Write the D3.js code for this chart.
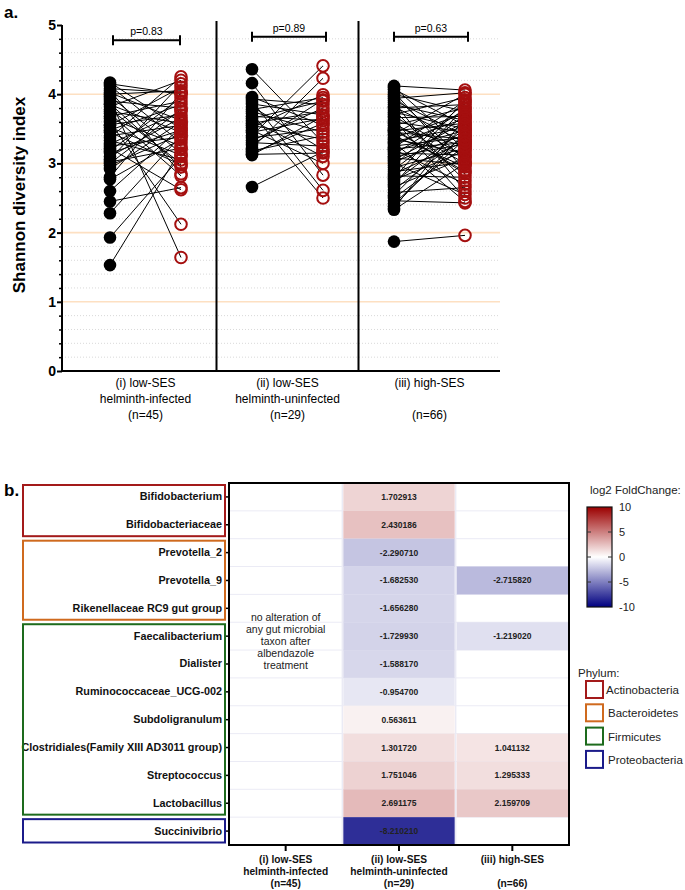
<!DOCTYPE html>
<html><head><meta charset="utf-8">
<script src="https://cdn.jsdelivr.net/npm/d3@7"></script>
<style>
html,body{margin:0;padding:0;background:#fff;}
svg{display:block;font-family:"Liberation Sans",Arial,sans-serif;}
</style></head>
<body>
<svg id="c" width="685" height="890"></svg>
<script>
// ---------- Panel a data ----------
const groups = ["i","ii","iii"];
const groupLabels = [["(i) low-SES","helminth-infected","(n=45)"],["(ii) low-SES","helminth-uninfected","(n=29)"],["(iii) high-SES","","(n=66)"]];
const pValues = ["p=0.83","p=0.89","p=0.63"];
const bracketY = [4.78,4.83,4.83];
const yTicks = [0,1,2,3,4,5];

const groupI_before = [4.17,4.15,4.12,4.08,4.05,4.02,4.00,3.97,3.93,3.90,3.86,3.85,3.82,3.78,3.75,3.72,3.68,3.65,3.60,3.56,3.55,3.52,3.48,3.45,3.40,3.37,3.33,3.28,3.25,3.22,3.18,3.15,3.10,3.06,3.02,3.00,2.97,2.92,2.80,2.77,2.60,2.45,2.28,1.93,1.53];
const groupI_after  = [3.50,4.00,3.30,4.02,2.85,3.62,4.05,3.15,1.64,3.80,2.95,3.45,4.20,3.00,3.58,2.82,3.90,3.25,2.12,3.70,4.10,3.12,3.85,2.98,3.55,4.25,3.05,3.75,3.38,2.62,3.95,3.48,3.66,4.15,3.22,3.78,3.42,3.60,4.02,3.35,3.52,2.65,3.40,3.10,3.20];

const groupII_before = [4.36,4.16,3.96,3.93,3.90,3.86,3.82,3.78,3.75,3.72,3.68,3.65,3.62,3.58,3.55,3.52,3.48,3.45,3.40,3.37,3.33,3.30,3.27,3.22,3.18,3.15,3.13,3.12,2.66];
const groupII_after  = [3.30,2.83,3.55,3.85,2.61,3.70,3.20,3.95,3.45,2.50,3.62,3.90,3.10,3.75,3.35,3.99,3.00,3.65,4.41,3.50,3.80,3.25,3.92,4.23,3.40,3.58,3.15,3.68,3.17];

const groupIII_before = [4.12,4.10,4.07,4.03,4.00,3.97,3.94,3.91,3.88,3.85,
  3.82,3.80,3.77,3.74,3.71,3.68,3.66,3.63,3.60,3.58,
  3.55,3.52,3.50,3.47,3.45,3.42,3.40,3.37,3.35,3.32,
  3.30,3.28,3.25,3.23,3.20,3.18,3.15,3.13,3.10,3.08,
  3.05,3.02,3.00,2.97,2.94,2.91,2.88,2.85,2.82,2.79,
  2.76,2.73,2.70,2.66,2.62,2.58,2.54,2.50,2.46,2.42,
  2.38,2.35,2.33,3.48,3.21,1.87];
const groupIII_after = [4.06,3.20,3.55,2.90,3.75,3.05,4.02,3.40,2.60,3.62,
  3.30,3.85,2.75,3.50,3.95,3.10,3.68,2.50,3.45,3.00,
  3.80,3.25,2.85,3.58,3.35,4.00,2.95,3.72,3.15,3.52,
  2.45,3.65,3.38,3.90,2.70,3.48,3.12,3.78,3.28,2.98,
  3.60,3.42,2.55,3.88,3.22,3.70,3.02,3.32,2.80,3.92,
  3.18,3.50,3.82,3.08,3.40,2.65,3.56,3.25,2.43,3.35,
  3.45,3.66,3.00,2.88,3.30,1.96];

// ---------- Panel b data ----------
const taxa = ["Bifidobacterium","Bifidobacteriaceae","Prevotella_2","Prevotella_9","Rikenellaceae RC9 gut group","Faecalibacterium","Dialister","Ruminococcaceae_UCG-002","Subdoligranulum","Clostridiales(Family XIII AD3011 group)","Streptococcus","Lactobacillus","Succinivibrio"];
const heatCols = ["i","ii","iii"];
const heatColLabels = [["(i) low-SES","helminth-infected","(n=45)"],["(ii) low-SES","helminth-uninfected","(n=29)"],["(iii) high-SES","","(n=66)"]];
const fcInfected   = [null,null,null,null,null,null,null,null,null,null,null,null,null];
const fcUninfected = [1.702913,2.430186,-2.290710,-1.682530,-1.656280,-1.729930,-1.588170,-0.954700,0.563611,1.301720,1.751046,2.691175,-8.210210];
const fcHighSES    = [null,null,null,-2.715820,null,-1.219020,null,null,null,1.041132,1.295333,2.159709,null];
const phyla = ["Actinobacteria","Bacteroidetes","Firmicutes","Proteobacteria"];
const phylumColors = ["#a31a1a","#cf6a1e","#1d6b1d","#1b1b8a"];
const phylumStart = [0,2,5,12];
const phylumEnd = [1,4,11,12];
const legendTicks = [10,5,0,-5,-10];
const noteLines = ["no alteration of","any gut microbial","taxon after","albendazole","treatment"];

const svg = d3.select("#c");

// ================= Panel a =================
const y = d3.scaleLinear().domain([0,5]).range([371,25]);
const xg = d3.scaleBand().domain(groups).range([74.5,500.5]);
const xp = d3.scalePoint().domain(["before","after"]).range([0,xg.bandwidth()]).padding(0.5);
const axisLeftX = 62, plotRight = 500;

svg.append("text").attr("x",4).attr("y",18).attr("font-size",17).attr("font-weight","bold").text("a.");

const minor = d3.range(0.2,5.0001,0.2).filter(v=>Math.abs(v-Math.round(v))>1e-6);
svg.append("g").selectAll("line").data(minor).join("line")
  .attr("x1",axisLeftX).attr("x2",plotRight).attr("y1",d=>y(d)).attr("y2",d=>y(d))
  .attr("stroke","#d9d9d9").attr("stroke-width",1).attr("stroke-dasharray","1,2");
svg.append("g").selectAll("line").data([1,2,3,4]).join("line")
  .attr("x1",axisLeftX).attr("x2",plotRight).attr("y1",d=>y(d)).attr("y2",d=>y(d))
  .attr("stroke","#fde0c2").attr("stroke-width",1.6);

const yAxis = d3.axisLeft(y).tickValues(yTicks).tickSize(5).tickFormat(d3.format("d"));
const ga = svg.append("g").attr("transform",`translate(${axisLeftX},0)`).call(yAxis);
ga.select(".domain").attr("stroke","#000").attr("stroke-width",2).attr("d",`M0,${y(5)}V${y(0)}`);
ga.selectAll(".tick line").attr("stroke","#000").attr("stroke-width",2);
ga.selectAll(".tick text").attr("font-size",14).attr("font-weight","bold").attr("fill","#000")
  .attr("font-family","Liberation Sans, Arial, sans-serif").attr("x",-6);
const gm = svg.append("g").attr("transform",`translate(${axisLeftX},0)`)
  .call(d3.axisLeft(y).tickValues(minor).tickSize(3).tickFormat(""));
gm.select(".domain").remove();
gm.selectAll(".tick line").attr("stroke","#000").attr("stroke-width",1.5);

svg.append("line").attr("x1",axisLeftX-1).attr("x2",plotRight).attr("y1",y(0)).attr("y2",y(0))
  .attr("stroke","#000").attr("stroke-width",2);
svg.append("g").selectAll("line").data(groups.slice(1)).join("line")
  .attr("x1",d=>xg(d)).attr("x2",d=>xg(d)).attr("y1",21).attr("y2",y(0))
  .attr("stroke","#000").attr("stroke-width",2);

svg.append("text").attr("transform",`translate(25,${(y(0)+y(5))/2-3}) rotate(-90)`)
  .attr("text-anchor","middle").attr("font-size",17).attr("font-weight","bold").text("Shannon diversity index");

const groupData = [[groupI_before,groupI_after],[groupII_before,groupII_after],[groupIII_before,groupIII_after]];
const redCol = "#a50f0f";
groups.forEach((g,gi)=>{
  const bx = xg(g)+xp("before"), ax = xg(g)+xp("after");
  const [b,a] = groupData[gi];
  const pairs = b.map((v,i)=>[v,a[i]]);
  const G = svg.append("g");
  G.selectAll("line.pair").data(pairs).join("line")
    .attr("x1",bx).attr("x2",ax).attr("y1",d=>y(d[0])).attr("y2",d=>y(d[1]))
    .attr("stroke","#000").attr("stroke-width",1);
  G.selectAll("circle.b").data(b).join("circle")
    .attr("cx",bx).attr("cy",d=>y(d)).attr("r",6.3).attr("fill","#000");
  G.selectAll("circle.a").data(a).join("circle")
    .attr("cx",ax).attr("cy",d=>y(d)).attr("r",5.8).attr("fill","none").attr("stroke",redCol).attr("stroke-width",2);
  const by = y(bracketY[gi]);
  const bl = bx+ (gi===0?3:0), br = ax - (gi===0?1:-3);
  G.append("path").attr("d",`M${bl},${by-5}V${by+5}M${bl},${by}H${br}M${br},${by-5}V${by+5}`)
    .attr("stroke","#000").attr("stroke-width",2).attr("fill","none");
  G.append("text").attr("x",(bl+br)/2).attr("y",by-5).attr("text-anchor","middle")
    .attr("font-size",10.5).text(pValues[gi]);
  groupLabels[gi].forEach((t,li)=>{
    svg.append("text").attr("x",xg(g)+xg.bandwidth()/2).attr("y",387+li*16)
      .attr("text-anchor","middle").attr("font-size",12).text(t);
  });
});

// ================= Panel b =================
svg.append("text").attr("x",4).attr("y",496).attr("font-size",17).attr("font-weight","bold").text("b.");

const hx = d3.scaleBand().domain(heatCols).range([229,569]);
const hy = d3.scaleBand().domain(taxa).range([483,845]);
const color = d3.scaleLinear().domain([-10,0,10]).range(["#000080","#ffffff","#9b0000"]);
const colVals = [fcInfected,fcUninfected,fcHighSES];

const HG = svg.append("g");
HG.selectAll("line.h").data(taxa.slice(1)).join("line")
  .attr("x1",229).attr("x2",569).attr("y1",d=>hy(d)).attr("y2",d=>hy(d))
  .attr("stroke","#ebebf5").attr("stroke-width",1);
HG.selectAll("line.v").data(heatCols.slice(1)).join("line")
  .attr("x1",d=>hx(d)).attr("x2",d=>hx(d)).attr("y1",483).attr("y2",845)
  .attr("stroke","#ebebf5").attr("stroke-width",1.5);

const cells = [];
heatCols.forEach((c,ci)=>taxa.forEach((t,ti)=>{ if(colVals[ci][ti]!==null) cells.push({c,t,v:colVals[ci][ti]}); }));
HG.selectAll("rect.cell").data(cells).join("rect")
  .attr("x",d=>hx(d.c)+1).attr("y",d=>hy(d.t)).attr("width",hx.bandwidth()-2).attr("height",hy.bandwidth())
  .attr("fill",d=>color(d.v));
HG.selectAll("text.cell").data(cells).join("text")
  .attr("x",d=>hx(d.c)+hx.bandwidth()/2).attr("y",d=>hy(d.t)+hy.bandwidth()/2+3)
  .attr("text-anchor","middle").attr("font-size",8.5).attr("font-weight","bold").attr("fill","#222")
  .text(d=>d.v.toFixed(6));

noteLines.forEach((t,i)=>{
  svg.append("text").attr("x",hx("i")+hx.bandwidth()/2).attr("y",621+i*12)
    .attr("text-anchor","middle").attr("font-size",10.5).attr("fill","#222").text(t);
});

svg.append("rect").attr("x",229).attr("y",483).attr("width",340).attr("height",362)
  .attr("fill","none").attr("stroke","#000").attr("stroke-width",2);

const ra = svg.append("g").attr("transform","translate(228,0)").call(d3.axisLeft(hy).tickSize(4).tickPadding(2));
ra.select(".domain").remove();
ra.selectAll(".tick line").attr("stroke","#000").attr("stroke-width",1.5);
ra.selectAll(".tick text").attr("font-size",10.8).attr("font-weight","bold").attr("fill","#111")
  .attr("font-family","Liberation Sans, Arial, sans-serif");

const ca = svg.append("g").attr("transform","translate(0,846)").call(d3.axisBottom(hx).tickSize(5).tickFormat(""));
ca.select(".domain").remove();
ca.selectAll(".tick line").attr("stroke","#000").attr("stroke-width",2);
heatCols.forEach((c,ci)=>{
  heatColLabels[ci].forEach((t,li)=>{
    svg.append("text").attr("x",hx(c)+hx.bandwidth()/2).attr("y",863+li*12)
      .attr("text-anchor","middle").attr("font-size",10.2).attr("font-weight","bold").attr("fill","#111").text(t);
  });
});

phyla.forEach((p,i)=>{
  const top = hy(taxa[phylumStart[i]])+2, bot = hy(taxa[phylumEnd[i]])+hy.bandwidth()-2.5;
  svg.append("rect").attr("x",23).attr("y",top).attr("width",202).attr("height",bot-top)
    .attr("fill","none").attr("stroke",phylumColors[i]).attr("stroke-width",2);
});

svg.append("text").attr("x",590).attr("y",494).attr("font-size",11.5).attr("fill","#222").text("log2 FoldChange:");
const defs = svg.append("defs");
const grad = defs.append("linearGradient").attr("id","fcg").attr("x1",0).attr("x2",0).attr("y1",0).attr("y2",1);
d3.range(10,-10.01,-2).forEach(v=>{
  grad.append("stop").attr("offset",(10-v)/20).attr("stop-color",color(v));
});
const ly = d3.scaleLinear().domain([10,-10]).range([507,607]);
svg.append("rect").attr("x",587).attr("y",ly(10)).attr("width",25).attr("height",ly(-10)-ly(10))
  .attr("fill","url(#fcg)").attr("stroke","#111").attr("stroke-width",1.2);
svg.append("g").selectAll("path").data([5,0,-5]).join("path")
  .attr("d",d=>`M587,${ly(d)}h4M612,${ly(d)}h-4`).attr("stroke","#333").attr("stroke-width",1);
svg.append("g").selectAll("text").data(legendTicks).join("text")
  .attr("x",619).attr("y",d=>ly(d)+4).attr("font-size",11).attr("fill","#222").text(d=>String(d));

svg.append("text").attr("x",578).attr("y",677).attr("font-size",11.5).attr("fill","#222").text("Phylum:");
phyla.forEach((p,i)=>{
  const yy = 681 + i*23.3;
  svg.append("rect").attr("x",586).attr("y",yy).attr("width",17).attr("height",17)
    .attr("fill","none").attr("stroke",phylumColors[i]).attr("stroke-width",2);
  svg.append("text").attr("x",i===0?606:608).attr("y",yy+13).attr("font-size",11.5).attr("fill","#222").text(p);
});
</script>
</body></html>
